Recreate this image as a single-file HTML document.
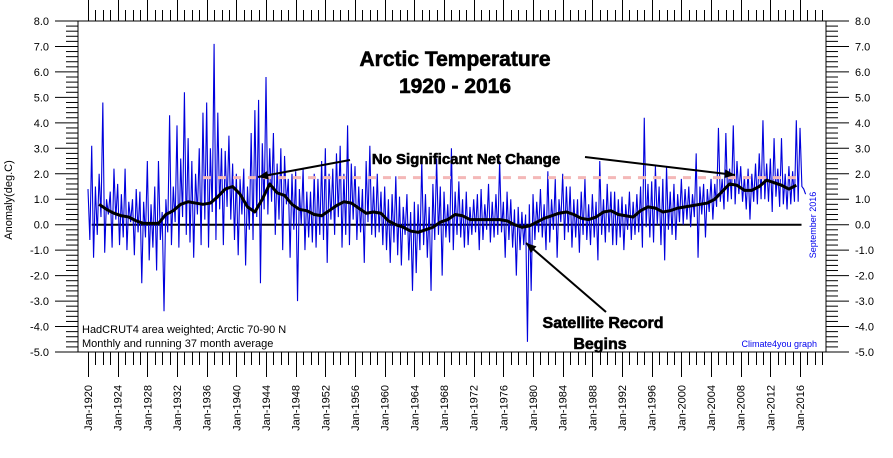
<!DOCTYPE html>
<html><head><meta charset="utf-8"><style>
html,body{margin:0;padding:0;background:#fff;}
svg{display:block;font-family:"Liberation Sans",sans-serif;}
</style></head><body>
<svg id="chart" width="893" height="458" viewBox="0 0 893 458" xmlns="http://www.w3.org/2000/svg">
<rect x="0" y="0" width="893" height="458" fill="#fff"/>
<g id="axes"></g>
<g id="series"></g>
<g id="annot"></g>
</svg>
<script>
// Monthly anomaly (sampled 4 per year), deg C, from Jan-1920
const monthlyValues = [
1.4,-0.6,3.1,-1.3, 1.5,-0.4,2.0,0.3, 4.8,-1.1,1.0,0.4, 1.3,-0.9,2.2,0.2, 1.6,-0.8,1.2,-0.5,
2.2,-1.0,0.9,0.1, 1.0,-1.2,1.4,-0.3, 1.3,-2.3,0.9,-0.5, 2.5,-1.4,0.8,-0.9, 1.5,-1.8,2.5,-0.6,
0.5,-3.4,1.0,-0.3, 4.3,-0.8,1.5,0.1, 3.9,-0.9,2.6,0.3, 5.2,-0.4,3.4,-0.7, 2.5,-1.3,2.0,0.4,
3.0,-0.8,4.4,0.2, 4.8,-0.9,3.0,0.5, 7.1,-0.6,4.4,0.6, 3.0,-0.8,2.9,0.7, 3.5,0.2,2.4,-0.6,
2.0,-1.2,1.8,0.4, 2.2,-1.6,1.5,-0.2, 3.6,-0.6,4.5,0.3, 4.9,-2.3,3.2,0.6, 5.8,0.4,3.0,0.9,
3.6,-0.4,2.4,0.2, 3.0,-1.0,2.7,0.8, 1.8,-1.3,2.0,-0.2, 2.1,-3.0,1.4,0.0, 2.2,-1.0,1.3,-0.5,
1.3,-0.7,2.0,-0.9, 1.8,-0.4,2.5,-0.6, 3.0,-1.5,2.0,0.2, 2.2,-0.4,2.8,0.3, 3.1,-0.9,2.0,-0.4,
3.9,-0.8,2.4,0.2, 2.3,-0.6,1.5,-0.3, 1.4,-1.5,2.5,0.1, 3.1,-0.4,1.5,-0.5, 2.0,-0.3,1.3,-0.8,
1.5,-1.0,1.0,-1.5, 1.2,-0.7,1.9,-1.2, 1.1,-1.6,0.7,-0.4, 1.2,-1.4,0.5,-2.6, 0.9,-1.9,0.8,-1.0,
2.5,-0.8,1.2,-1.3, 0.7,-2.6,1.6,-0.6, 2.6,-0.4,1.5,-2.0, 1.3,-0.5,0.8,-0.7, 3.0,-1.0,1.3,-0.4,
1.7,-0.5,1.0,-0.9, 1.3,-0.8,0.7,-0.4, 1.0,-0.3,1.2,-1.0, 1.4,-0.6,0.8,-0.2, 1.6,-0.7,0.9,-0.5,
1.2,-0.4,2.5,-0.3, 0.9,-1.3,1.3,-0.6, 1.0,-0.9,0.6,-2.0, 0.7,-1.0,0.5,-0.8, 0.4,-4.6,0.8,-2.6,
1.2,-0.6,0.9,-0.3, 1.4,-0.5,0.8,-1.0, 2.1,-0.7,1.0,-0.2, 1.8,-1.3,1.0,0.1, 2.0,-0.6,1.5,-0.3,
1.5,-0.9,1.0,-0.5, 1.0,-1.1,1.3,-0.4, 1.8,-0.6,0.8,-0.8, 1.2,-0.5,0.9,-1.4, 2.5,-0.4,1.0,-0.7,
1.6,-0.3,1.3,-0.8, 1.3,-0.8,1.0,-0.5, 1.1,-1.0,0.8,-0.2, 1.3,-0.6,0.9,-0.4, 1.2,-0.3,1.5,-0.9,
4.2,-0.1,1.6,-0.5, 1.7,-0.7,2.3,0.0, 1.5,-0.8,1.8,-1.4, 2.3,-0.2,1.3,-0.4, 1.6,-0.6,1.2,0.1,
1.8,0.0,1.4,0.2, 1.5,-0.1,1.2,0.3, 2.8,-1.3,1.5,0.4, 1.6,-0.5,1.4,0.5, 1.8,0.2,1.6,0.7,
3.8,0.9,1.8,0.6, 3.6,0.9,2.2,1.0, 3.9,0.8,2.5,1.2, 2.3,0.9,1.9,0.6, 2.2,0.2,2.0,0.9,
2.4,0.8,2.8,1.0, 4.1,1.0,2.4,0.9, 2.6,0.5,3.4,1.1, 2.2,0.7,3.4,0.8, 2.0,0.6,2.3,0.8,
2.1,0.9,4.1,0.9, 3.8,1.5,1.4,1.2
];
const samplesPerYear = 4;
const startYear = 1920;
// Running 37-month average, one value per year (mid-year), from 1921.5
const avgStart = 1921.5;
const avgValues = [0.8,0.6,0.45,0.35,0.3,0.15,0.05,0.05,0.05,0.4,0.55,0.8,0.9,0.85,0.8,0.85,1.1,1.4,1.5,1.2,
0.7,0.5,1.0,1.6,1.25,1.15,0.8,0.6,0.55,0.4,0.35,0.55,0.75,0.9,0.85,0.65,0.45,0.5,0.45,0.15,
0.0,-0.1,-0.25,-0.3,-0.2,-0.1,0.1,0.2,0.4,0.35,0.2,0.2,0.2,0.2,0.2,0.15,0.0,-0.1,-0.05,0.1,
0.25,0.35,0.45,0.5,0.4,0.25,0.2,0.3,0.5,0.55,0.4,0.35,0.3,0.55,0.7,0.65,0.5,0.55,0.65,0.7,
0.75,0.8,0.85,1.0,1.3,1.6,1.55,1.35,1.35,1.5,1.75,1.65,1.55,1.4,1.55];
const yTickValues = [8,7,6,5,4,3,2,1,0,-1,-2,-3,-4,-5];
const xTickYears = [1920,1924,1928,1932,1936,1940,1944,1948,1952,1956,1960,1964,1968,1972,1976,1980,1984,1988,1992,1996,2000,2004,2008,2012,2016];
const refLevel = 1.85;

const NS="http://www.w3.org/2000/svg";
const L=78,R=826,T=21,B=352;
function yS(v){return T+(8-v)*(B-T)/13;}
function xS(yr){return 88+(yr-1920)*7.417;}
function mk(parent,tag,attrs,text){const e=document.createElementNS(NS,tag);for(const k in attrs)e.setAttribute(k,attrs[k]);if(text!==undefined)e.textContent=text;parent.appendChild(e);return e;}
const axes=document.getElementById('axes'),series=document.getElementById('series'),annot=document.getElementById('annot');

const frame=mk(axes,'rect',{x:L,y:T,width:R-L,height:B-T,fill:'none',stroke:'#000','stroke-width':1});



for(let i=0;i<yTickValues.length;i++){
  const v=yTickValues[i],y=yS(v);
  mk(axes,'line',{x1:55,x2:L,y1:y,y2:y,stroke:'#000'});
  mk(axes,'line',{x1:R,x2:849,y1:y,y2:y,stroke:'#000'});
  const tl=mk(axes,'text',{x:49,y:y+4,'text-anchor':'end','font-size':11},v.toFixed(1));
  
  
  const tr=mk(axes,'text',{x:855,y:y+4,'font-size':11},v.toFixed(1));
  
  
  if(i<yTickValues.length-1){for(let k=1;k<5;k++){const yy=y+k*(B-T)/13/5;
    mk(axes,'line',{x1:66,x2:L,y1:yy,y2:yy,stroke:'#000'});
    mk(axes,'line',{x1:R,x2:838,y1:yy,y2:yy,stroke:'#000'});}}
}
for(let yr=1920;xS(yr)<=R;yr++){
  const x=Math.round(xS(yr))+0.5;const major=xTickYears.indexOf(yr)>=0;
  mk(axes,'line',{x1:x,x2:x,y1:B,y2:major?377:365,stroke:'#000'});
  mk(axes,'line',{x1:x,x2:x,y1:T,y2:major?0:10,stroke:'#000'});
}
for(const yr of xTickYears){
  const x=xS(yr)+4;
  const t=mk(axes,'text',{x:x,y:385,'font-size':11,'text-anchor':'end',transform:`rotate(-90 ${x} 385)`},'Jan-'+yr);
  
  
}
const yt=mk(axes,'text',{x:12,y:200,'font-size':11,'text-anchor':'middle',transform:'rotate(-90 12 200)'},'Anomaly(deg.C)');



const z=mk(series,'line',{x1:xS(1920.5),x2:xS(2016.2),y1:yS(0),y2:yS(0),stroke:'#000','stroke-width':2});



let d='';
monthlyValues.forEach((v,i)=>{const x=xS(startYear+i/samplesPerYear);d+=(i?'L':'M')+x.toFixed(2)+' '+yS(v).toFixed(2);});
const ms=mk(series,'path',{d:d,fill:'none',stroke:'#0000dd','stroke-width':1.1});



const rl=mk(series,'line',{x1:xS(1935.5),x2:xS(2015.7),y1:yS(refLevel),y2:yS(refLevel),stroke:'#f4b8b8','stroke-width':3,'stroke-dasharray':'8 7'});



let d2='';
avgValues.forEach((v,i)=>{d2+=(i?'L':'M')+xS(avgStart+i).toFixed(2)+' '+yS(v).toFixed(2);});
const av=mk(series,'path',{d:d2,fill:'none',stroke:'#000','stroke-width':3,'stroke-linejoin':'round'});



function txt(x,y,s,attrs,name){const t=mk(annot,'text',Object.assign({x:x,y:y},attrs),s);return t;}
const heavy={'font-weight':'bold','text-anchor':'middle',stroke:'#000','stroke-width':0.6};
txt(455,66,'Arctic Temperature',Object.assign({'font-size':21},heavy),'chart-title');
txt(455,93,'1920 - 2016',Object.assign({'font-size':21},heavy),'chart-subtitle');
txt(466,164,'No Significant Net Change',Object.assign({'font-size':15},heavy),'no-change-label');
txt(603,328,'Satellite Record',Object.assign({'font-size':16},heavy),'satellite-label');
txt(600,349,'Begins',Object.assign({'font-size':16},heavy),'satellite-label-begins');
txt(82,333,'HadCRUT4 area weighted; Arctic 70-90 N',{'font-size':11},'source-note');
txt(82,347,'Monthly and running 37 month average',{'font-size':11},'method-note');
txt(817,347,'Climate4you graph',{'font-size':9,fill:'#0000ee','text-anchor':'end'},'credit-label');
txt(816,225,'September 2016',{'font-size':9,fill:'#0000ee','text-anchor':'middle',transform:'rotate(-90 816 225)'},'date-label');
function arrow(x1,y1,x2,y2,name){
  const g=mk(annot,'g',{});
  mk(g,'line',{x1:x1,y1:y1,x2:x2,y2:y2,stroke:'#000','stroke-width':2});
  const a=Math.atan2(y2-y1,x2-x1),s=11,w=0.4;
  mk(g,'polygon',{points:`${x2},${y2} ${x2-s*Math.cos(a-w)},${y2-s*Math.sin(a-w)} ${x2-s*Math.cos(a+w)},${y2-s*Math.sin(a+w)}`,fill:'#000'});
}
arrow(350,160,258,177,'arrow-left');
arrow(585,157,735,175,'arrow-right');
arrow(606,312,526,243,'arrow-satellite');
</script>
</body></html>
